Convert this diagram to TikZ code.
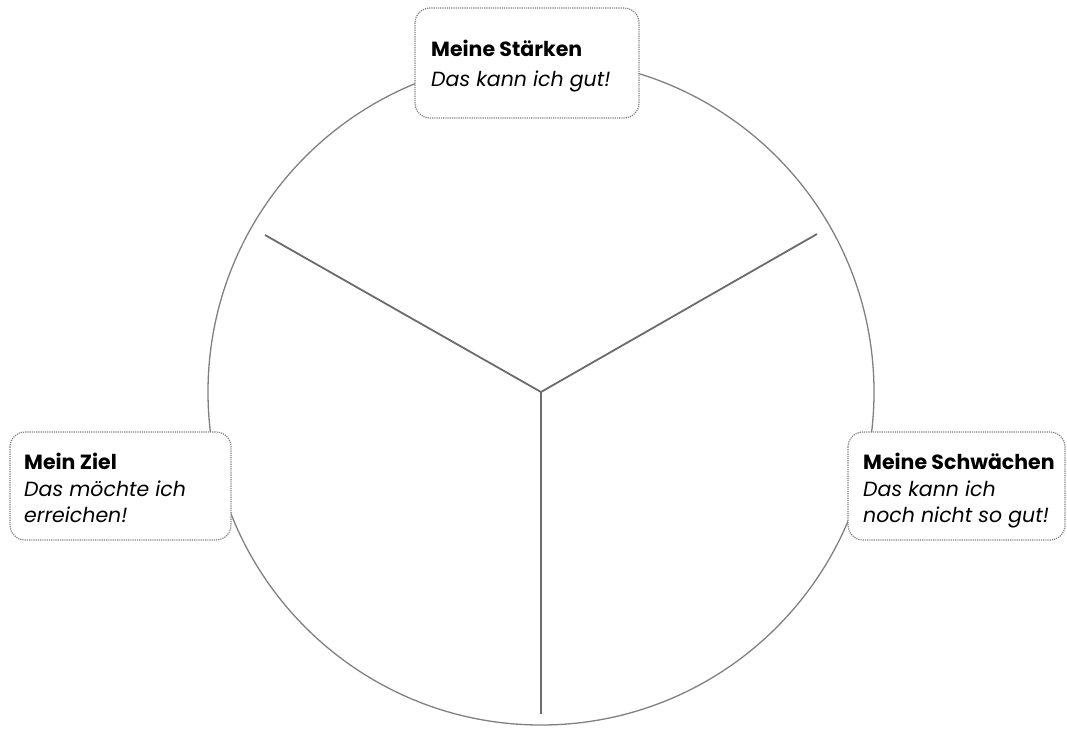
\documentclass[tikz,border=0pt]{standalone}
\usepackage{fontspec}
\setmainfont{Poppins}
\begin{document}
\begin{tikzpicture}[x=1pt,y=-1pt,
  ring/.style={draw=black!50,line width=1.3pt},
  spoke/.style={draw=black!58,line width=1.8pt},
  bubble/.style={draw=black!50,dash pattern=on 1.2pt off 1pt,line width=1.2pt,fill=white,rounded corners=15pt},
  label/.style={anchor=north west,inner sep=0pt,align=left,font=\fontsize{20.5}{26.5}\selectfont}
]
\useasboundingbox (0,0) rectangle (1067,728);
\coordinate (c) at (541,392);
\draw[ring] (c) circle[radius=333];
\coordinate (sL) at (265,235);
\coordinate (sR) at (817,234);
\coordinate (sB) at (541,714);
\draw[spoke] (sL) -- (c) -- (sR);
\draw[spoke] (c) -- (sB);
% boxes
\draw[bubble] (415,8) rectangle (639,118);
\draw[bubble] (10,432) rectangle (231,540);
\draw[bubble] (848,432) rectangle (1065,540);
\node[label,font=\fontsize{20.5}{30}\selectfont] (top) at (431,40) {\textbf{Meine Stärken}\\\textit{Das kann ich gut!}};
\node[label] (left) at (24,453) {\textbf{Mein Ziel}\\\textit{Das möchte ich}\\\textit{erreichen!}};
\node[label] (right) at (863,453) {\textbf{Meine Schwächen}\\\textit{Das kann ich}\\\textit{noch nicht so gut!}};
\end{tikzpicture}
\end{document}
